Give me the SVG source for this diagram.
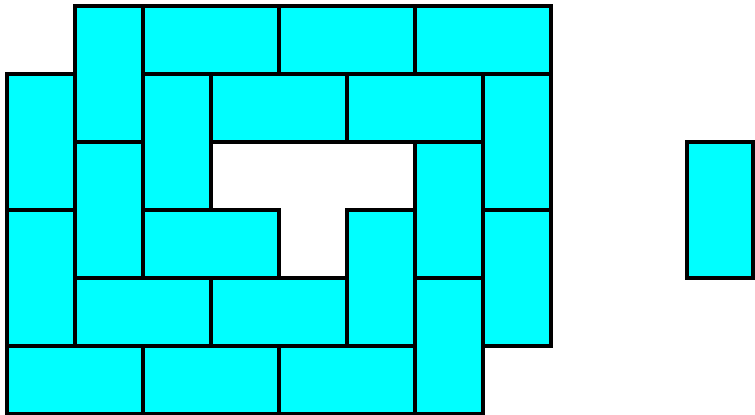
<svg xmlns="http://www.w3.org/2000/svg" width="755" height="415" viewBox="0 0 755 415">
<style>
.t{fill:#00ffff;stroke:#000;stroke-width:4}
</style>
<rect width="755" height="415" fill="#fff"/>
<g id="tiles">
<rect id="p1" class="t" x="75" y="6" width="68" height="136"/>
<rect id="p2" class="t" x="143" y="6" width="136" height="68"/>
<rect id="p3" class="t" x="279" y="6" width="136" height="68"/>
<rect id="p4" class="t" x="415" y="6" width="136" height="68"/>
<rect id="p5" class="t" x="7" y="74" width="68" height="136"/>
<rect id="p6" class="t" x="143" y="74" width="68" height="136"/>
<rect id="p7" class="t" x="211" y="74" width="136" height="68"/>
<rect id="p8" class="t" x="347" y="74" width="136" height="68"/>
<rect id="p9" class="t" x="483" y="74" width="68" height="136"/>
<rect id="p10" class="t" x="75" y="142" width="68" height="136"/>
<rect id="p11" class="t" x="415" y="142" width="68" height="136"/>
<rect id="p12" class="t" x="7" y="210" width="68" height="136"/>
<rect id="p13" class="t" x="143" y="210" width="136" height="68"/>
<rect id="p14" class="t" x="347" y="210" width="68" height="136"/>
<rect id="p15" class="t" x="483" y="210" width="68" height="136"/>
<rect id="p16" class="t" x="75" y="278" width="136" height="68"/>
<rect id="p17" class="t" x="211" y="278" width="136" height="68"/>
<rect id="p18" class="t" x="415" y="278" width="68" height="136"/>
<rect id="p19" class="t" x="7" y="346" width="136" height="68"/>
<rect id="p20" class="t" x="143" y="346" width="136" height="68"/>
<rect id="p21" class="t" x="279" y="346" width="136" height="68"/>
</g>
<g id="extra">
<rect id="p22" class="t" x="687" y="142" width="66" height="136"/>
</g>
<g id="connectors"></g>
</svg>
